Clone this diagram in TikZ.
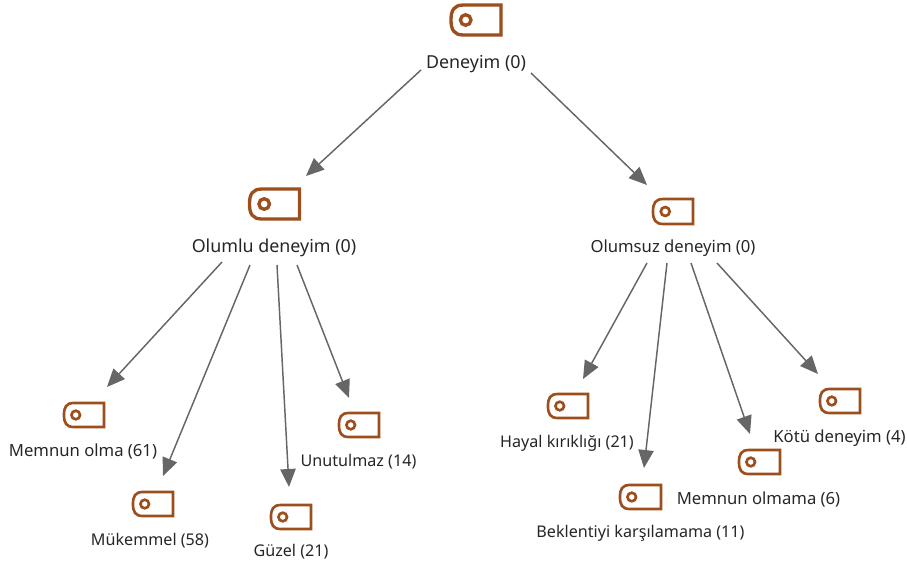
\documentclass[tikz,border=0pt]{standalone}
\usepackage{fontspec}
\setmainfont{Noto Sans}
\usetikzlibrary{arrows.meta}
\definecolor{tagc}{HTML}{9C4F1C}
\definecolor{linec}{HTML}{666666}
\definecolor{textc}{HTML}{262626}
\tikzset{
  x=0.75pt,y=-0.75pt,
  conn/.style={draw=linec,line width=1.1pt,-{Triangle[length=13.5pt,width=11.5pt,fill=linec]}},
  iconbox/.style={inner sep=0pt,outer sep=0pt,minimum width=#1,rectangle},
  taglabel/.style={inner sep=0pt,text=textc,font=\fontsize{12.1}{14}\selectfont},
  biglabel/.style={inner sep=0pt,text=textc,font=\fontsize{13.4}{15}\selectfont},
  tagline/.style={draw=tagc,line join=miter},
}
% name, centre x, centre y, width, height, stroke
\newcommand{\tagicon}[6]{%
  \node[iconbox=#4*0.75pt,minimum height=#5*0.75pt] (#1) at (#2,#3) {};
  \draw[tagline,line width=#6pt]
    ([shift={(#4*0.5-1,-#5*0.5+1)}]#1.center) -- ([shift={(#4*0.5-1,#5*0.5-1)}]#1.center)
    -- ([shift={(-#4*0.5+#5*0.42,#5*0.5-1)}]#1.center)
    .. controls ([shift={(-#4*0.5+#5*0.12,#5*0.5-1)}]#1.center) and ([shift={(-#4*0.5+1,#5*0.30)}]#1.center) .. ([shift={(-#4*0.5+1,0)}]#1.center)
    .. controls ([shift={(-#4*0.5+1,-#5*0.30)}]#1.center) and ([shift={(-#4*0.5+#5*0.12,-#5*0.5+1)}]#1.center) .. ([shift={(-#4*0.5+#5*0.42,-#5*0.5+1)}]#1.center)
    -- cycle;
  \draw[tagline,line width=#6pt] ([shift={(-#4*0.5+#5*0.49,0)}]#1.center) circle[radius=#5*0.165*0.75pt];
}
\begin{document}
\begin{tikzpicture}
\useasboundingbox (0,0) rectangle (907,562);
\tagicon{iroot}{476}{20}{52}{32}{2.5}
\tagicon{ipos}{274.5}{204}{52}{32}{2.5}
\tagicon{ineg}{673}{211.5}{42}{27}{2}
\tagicon{ia}{84}{415}{42}{26}{2}
\tagicon{ib}{153}{504}{42}{26}{2}
\tagicon{ic}{291}{517}{42}{26}{2}
\tagicon{id}{359}{425}{42}{26}{2}
\tagicon{ie}{568}{406}{42}{26}{2}
\tagicon{if}{640.5}{497}{43}{26}{2}
\tagicon{ig}{759.5}{462}{43}{26}{2}
\tagicon{ih}{840}{401}{42}{26}{2}
\node[biglabel] (lroot) at (476,64) {Deneyim (0)};
\node[biglabel] (lpos) at (274,248) {Olumlu deneyim (0)};
\node[taglabel,font=\fontsize{12.5}{14}\selectfont] (lneg) at (673,248) {Olumsuz deneyim (0)};
\node[taglabel,font=\fontsize{12.5}{14}\selectfont] (la) at (83,451) {Memnun olma (61)};
\node[taglabel] (lb) at (150,541) {Mükemmel (58)};
\node[taglabel] (lc) at (291,552) {Güzel (21)};
\node[taglabel] (ld) at (358.5,462) {Unutulmaz (14)};
\node[taglabel] (le) at (567,443) {Hayal kırıklığı (21)};
\node[taglabel] (lf) at (640.5,533) {Beklentiyi karşılamama (11)};
\node[taglabel,font=\fontsize{12.5}{14}\selectfont] (lg) at (758.5,499) {Memnun olmama (6)};
\node[taglabel,font=\fontsize{12.5}{14}\selectfont] (lh) at (839.5,438) {Kötü deneyim (4)};
\draw[conn] ([shift={(-55,6)}]lroot.center) -- ([shift={(31.5,-28)}]ipos.center);
\draw[conn] ([shift={(55,9)}]lroot.center) -- ([shift={(-26,-26.5)}]ineg.center);
\draw[conn] ([shift={(-52,14)}]lpos.center) -- ([shift={(23,-28)}]ia.center);
\draw[conn] ([shift={(-24,17)}]lpos.center) -- ([shift={(10,-28)}]ib.center);
\draw[conn] ([shift={(3,17)}]lpos.center) -- ([shift={(-2,-30)}]ic.center);
\draw[conn] ([shift={(23,17)}]lpos.center) -- ([shift={(-10,-27)}]id.center);
\draw[conn] ([shift={(-26,15)}]lneg.center) -- ([shift={(15,-27)}]ie.center);
\draw[conn] ([shift={(-6,15)}]lneg.center) -- ([shift={(3.5,-29)}]if.center);
\draw[conn] ([shift={(18,15)}]lneg.center) -- ([shift={(-9.5,-28)}]ig.center);
\draw[conn] ([shift={(44,15)}]lneg.center) -- ([shift={(-22,-27)}]ih.center);
\end{tikzpicture}
\end{document}
